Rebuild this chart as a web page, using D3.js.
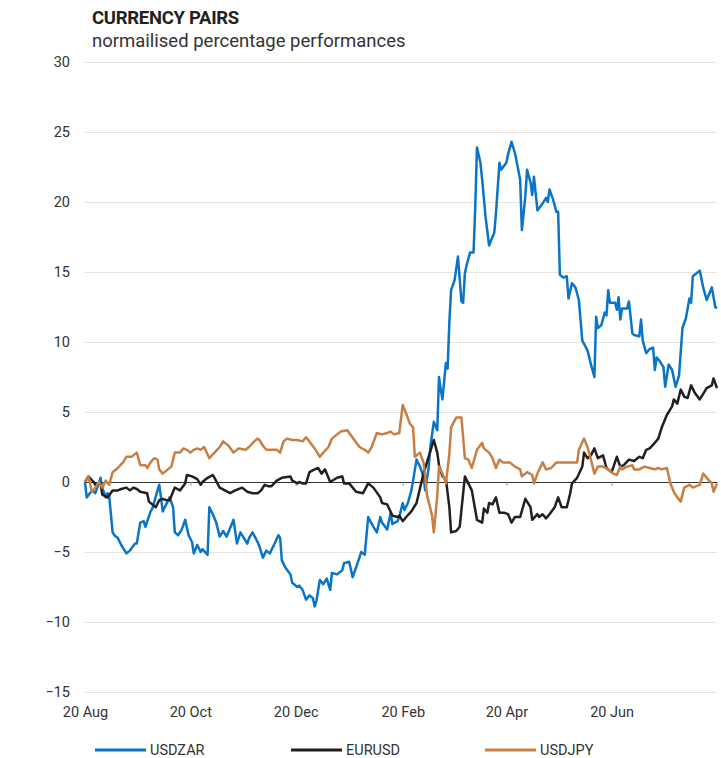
<!DOCTYPE html>
<html>
<head>
<meta charset="utf-8">
<script src="https://cdn.jsdelivr.net/npm/d3@7"></script>
<style>
  body { margin: 0; background: #fff; }
  svg { display: block; font-family: Roboto, "Noto Sans", sans-serif; }
</style>
</head>
<body>
<div id="chart"></div>
<script>
// Series values, normalised % change since 20 Aug 2019
const usdzar = [
  ["2019-08-20", 0], ["2019-08-21", -1.1], ["2019-08-24", -0.6], ["2019-08-26", -0.8], ["2019-08-29", 0.3],
  ["2019-08-30", -0.4], ["2019-09-01", -1.1], ["2019-09-02", -0.8], ["2019-09-03", -1.0], ["2019-09-05", -3.6],
  ["2019-09-06", -3.8], ["2019-09-08", -4.0], ["2019-09-10", -4.5], ["2019-09-13", -5.1], ["2019-09-15", -4.9],
  ["2019-09-18", -4.4], ["2019-09-19", -4.4], ["2019-09-21", -2.9], ["2019-09-23", -2.8], ["2019-09-24", -3.2],
  ["2019-09-27", -2.1], ["2019-09-28", -1.9], ["2019-10-01", -0.6], ["2019-10-02", -0.2], ["2019-10-03", -1.1],
  ["2019-10-04", -2.1], ["2019-10-06", -1.6], ["2019-10-08", -1.1], ["2019-10-10", -1.8], ["2019-10-11", -3.6],
  ["2019-10-13", -3.8], ["2019-10-15", -3.4], ["2019-10-17", -2.7], ["2019-10-19", -3.8], ["2019-10-21", -4.3],
  ["2019-10-22", -5.1], ["2019-10-24", -4.5], ["2019-10-26", -5.0], ["2019-10-27", -4.8], ["2019-10-30", -5.2],
  ["2019-10-31", -1.8], ["2019-11-02", -2.3], ["2019-11-04", -2.9], ["2019-11-06", -3.9], ["2019-11-08", -3.5],
  ["2019-11-10", -3.9], ["2019-11-12", -3.3], ["2019-11-14", -2.7], ["2019-11-16", -4.4], ["2019-11-18", -3.6],
  ["2019-11-19", -3.8], ["2019-11-22", -4.4], ["2019-11-23", -4.0], ["2019-11-25", -3.6], ["2019-11-28", -4.3],
  ["2019-11-29", -4.6], ["2019-12-01", -5.4], ["2019-12-03", -4.9], ["2019-12-05", -5.1], ["2019-12-07", -4.6],
  ["2019-12-10", -3.8], ["2019-12-11", -4.0], ["2019-12-12", -5.6], ["2019-12-14", -6.1], ["2019-12-17", -6.6],
  ["2019-12-18", -7.2], ["2019-12-21", -7.5], ["2019-12-22", -7.4], ["2019-12-24", -7.7], ["2019-12-26", -8.4],
  ["2019-12-28", -8.1], ["2019-12-30", -8.3], ["2019-12-31", -8.9], ["2020-01-01", -8.5], ["2020-01-03", -7.0],
  ["2020-01-05", -7.3], ["2020-01-07", -6.9], ["2020-01-09", -7.7], ["2020-01-10", -6.5], ["2020-01-13", -6.6],
  ["2020-01-16", -6.3], ["2020-01-17", -5.8], ["2020-01-20", -5.7], ["2020-01-22", -6.8], ["2020-01-24", -6.1],
  ["2020-01-27", -5.0], ["2020-01-29", -5.2], ["2020-01-31", -2.5], ["2020-02-03", -3.2], ["2020-02-05", -3.6],
  ["2020-02-07", -2.5], ["2020-02-08", -2.9], ["2020-02-11", -3.4], ["2020-02-13", -2.2], ["2020-02-14", -3.0],
  ["2020-02-17", -2.8], ["2020-02-18", -2.5], ["2020-02-20", -1.5], ["2020-02-21", -2.0], ["2020-02-23", -1.5],
  ["2020-02-25", -0.6], ["2020-02-26", 0.1], ["2020-02-28", 1.6], ["2020-03-01", 1.1], ["2020-03-03", 0.4],
  ["2020-03-04", -0.6], ["2020-03-06", 1.0], ["2020-03-07", 2.5], ["2020-03-09", 4.3], ["2020-03-11", 3.7],
  ["2020-03-12", 7.5], ["2020-03-13", 6.6], ["2020-03-14", 5.9], ["2020-03-16", 8.5], ["2020-03-17", 8.1],
  ["2020-03-18", 11.4], ["2020-03-19", 13.7], ["2020-03-21", 14.4], ["2020-03-23", 16.1], ["2020-03-25", 12.9],
  ["2020-03-26", 12.8], ["2020-03-27", 14.9], ["2020-03-28", 15.5], ["2020-03-30", 16.4], ["2020-04-01", 16.4],
  ["2020-04-02", 19.6], ["2020-04-03", 23.9], ["2020-04-05", 22.8], ["2020-04-06", 21.6], ["2020-04-08", 18.9],
  ["2020-04-10", 16.9], ["2020-04-13", 17.8], ["2020-04-14", 19.2], ["2020-04-16", 22.8], ["2020-04-17", 22.3],
  ["2020-04-20", 22.8], ["2020-04-21", 23.4], ["2020-04-23", 24.3], ["2020-04-25", 23.5], ["2020-04-28", 21.6],
  ["2020-04-29", 18.0], ["2020-05-01", 20.4], ["2020-05-02", 22.3], ["2020-05-04", 21.4], ["2020-05-05", 20.5],
  ["2020-05-06", 21.8], ["2020-05-08", 19.4], ["2020-05-11", 19.9], ["2020-05-13", 20.3], ["2020-05-14", 20.0],
  ["2020-05-15", 20.9], ["2020-05-17", 20.2], ["2020-05-19", 19.3], ["2020-05-20", 19.3], ["2020-05-21", 14.8],
  ["2020-05-23", 14.6], ["2020-05-25", 14.7], ["2020-05-26", 13.1], ["2020-05-28", 14.2], ["2020-05-30", 13.9],
  ["2020-06-01", 13.0], ["2020-06-03", 10.1], ["2020-06-06", 9.4], ["2020-06-08", 8.4], ["2020-06-10", 7.5],
  ["2020-06-11", 11.8], ["2020-06-12", 11.0], ["2020-06-14", 11.2], ["2020-06-16", 12.1], ["2020-06-17", 11.9],
  ["2020-06-18", 13.7], ["2020-06-19", 12.8], ["2020-06-22", 12.8], ["2020-06-23", 12.3], ["2020-06-24", 13.2],
  ["2020-06-25", 11.6], ["2020-06-26", 12.4], ["2020-06-29", 12.4], ["2020-06-30", 12.9], ["2020-07-02", 10.6],
  ["2020-07-03", 10.5], ["2020-07-06", 10.4], ["2020-07-07", 11.6], ["2020-07-08", 10.1], ["2020-07-10", 9.2],
  ["2020-07-12", 9.5], ["2020-07-14", 9.6], ["2020-07-15", 8.0], ["2020-07-16", 8.9], ["2020-07-18", 8.6],
  ["2020-07-20", 8.2], ["2020-07-21", 6.8], ["2020-07-23", 8.4], ["2020-07-25", 8.0], ["2020-07-27", 6.8],
  ["2020-07-29", 7.6], ["2020-07-31", 11.0], ["2020-08-02", 11.7], ["2020-08-04", 13.1], ["2020-08-05", 12.8],
  ["2020-08-06", 14.7], ["2020-08-10", 15.1], ["2020-08-12", 13.9], ["2020-08-14", 13.0], ["2020-08-17", 13.9],
  ["2020-08-19", 12.5], ["2020-08-20", 12.4]
];

const eurusd = [
  ["2019-08-20", 0], ["2019-08-22", 0.4], ["2019-08-25", 0.0], ["2019-08-26", -0.2], ["2019-08-29", -0.1],
  ["2019-08-30", -0.9], ["2019-09-02", -1.1], ["2019-09-05", -0.6], ["2019-09-08", -0.6], ["2019-09-10", -0.5],
  ["2019-09-13", -0.4], ["2019-09-15", -0.6], ["2019-09-17", -0.4], ["2019-09-19", -0.5], ["2019-09-21", -0.7],
  ["2019-09-25", -0.8], ["2019-09-26", -1.4], ["2019-09-28", -1.6], ["2019-09-30", -1.8], ["2019-10-02", -1.3],
  ["2019-10-04", -1.2], ["2019-10-06", -1.3], ["2019-10-08", -1.3], ["2019-10-11", -0.4], ["2019-10-14", -0.6],
  ["2019-10-17", -0.1], ["2019-10-18", 0.5], ["2019-10-21", 0.4], ["2019-10-24", 0.2], ["2019-10-26", -0.2],
  ["2019-10-27", 0.0], ["2019-10-30", 0.3], ["2019-11-02", 0.5], ["2019-11-03", 0.3], ["2019-11-06", -0.4],
  ["2019-11-09", -0.6], ["2019-11-12", -0.8], ["2019-11-15", -0.6], ["2019-11-19", -0.4], ["2019-11-22", -0.7],
  ["2019-11-25", -0.8], ["2019-11-28", -0.8], ["2019-11-30", -0.6], ["2019-12-02", -0.2], ["2019-12-04", -0.3],
  ["2019-12-06", -0.3], ["2019-12-09", 0.1], ["2019-12-12", 0.3], ["2019-12-17", 0.4], ["2019-12-18", 0.1],
  ["2019-12-21", -0.1], ["2019-12-22", 0.0], ["2019-12-24", -0.1], ["2019-12-26", -0.1], ["2019-12-28", 0.7],
  ["2019-12-31", 0.9], ["2020-01-02", 1.0], ["2020-01-04", 0.6], ["2020-01-06", 0.9], ["2020-01-09", 0.0],
  ["2020-01-13", 0.3], ["2020-01-16", 0.4], ["2020-01-17", -0.1], ["2020-01-20", -0.1], ["2020-01-24", -0.7],
  ["2020-01-28", -0.8], ["2020-01-31", -0.1], ["2020-02-03", -0.4], ["2020-02-07", -1.1], ["2020-02-08", -1.5],
  ["2020-02-11", -1.6], ["2020-02-14", -2.4], ["2020-02-17", -2.5], ["2020-02-18", -2.4], ["2020-02-20", -2.8],
  ["2020-02-22", -2.5], ["2020-02-25", -2.1], ["2020-02-28", -1.5], ["2020-03-03", 0.6], ["2020-03-06", 1.8],
  ["2020-03-09", 3.0], ["2020-03-11", 2.1], ["2020-03-12", 1.2], ["2020-03-14", 0.4], ["2020-03-16", 0.2],
  ["2020-03-18", -1.8], ["2020-03-19", -3.6], ["2020-03-22", -3.5], ["2020-03-24", -3.2], ["2020-03-27", 0.4],
  ["2020-03-29", -0.1], ["2020-03-31", -0.6], ["2020-04-02", -2.0], ["2020-04-03", -2.7], ["2020-04-06", -2.9],
  ["2020-04-07", -1.9], ["2020-04-09", -2.2], ["2020-04-10", -1.5], ["2020-04-12", -1.6], ["2020-04-14", -1.1],
  ["2020-04-16", -2.2], ["2020-04-19", -2.2], ["2020-04-21", -2.3], ["2020-04-23", -2.9], ["2020-04-25", -2.5],
  ["2020-04-28", -2.5], ["2020-05-01", -1.2], ["2020-05-04", -1.8], ["2020-05-05", -2.7], ["2020-05-08", -2.3],
  ["2020-05-09", -2.5], ["2020-05-11", -2.3], ["2020-05-13", -2.6], ["2020-05-15", -2.3], ["2020-05-18", -1.8],
  ["2020-05-20", -1.1], ["2020-05-22", -1.8], ["2020-05-25", -1.8], ["2020-05-27", -0.8], ["2020-05-28", -0.1],
  ["2020-05-31", 0.3], ["2020-06-03", 1.1], ["2020-06-04", 2.1], ["2020-06-06", 1.7], ["2020-06-08", 1.9],
  ["2020-06-10", 2.4], ["2020-06-12", 1.7], ["2020-06-15", 1.9], ["2020-06-17", 1.0], ["2020-06-20", 0.7],
  ["2020-06-23", 1.8], ["2020-06-25", 1.1], ["2020-06-27", 1.2], ["2020-06-30", 1.6], ["2020-07-03", 1.5],
  ["2020-07-06", 1.8], ["2020-07-08", 1.7], ["2020-07-10", 2.3], ["2020-07-12", 2.4], ["2020-07-15", 2.8],
  ["2020-07-17", 3.1], ["2020-07-19", 3.9], ["2020-07-22", 4.8], ["2020-07-25", 5.4], ["2020-07-26", 5.9],
  ["2020-07-28", 5.6], ["2020-07-30", 6.6], ["2020-08-01", 6.1], ["2020-08-03", 6.0], ["2020-08-05", 6.9],
  ["2020-08-07", 6.4], ["2020-08-10", 5.9], ["2020-08-12", 6.3], ["2020-08-14", 6.7], ["2020-08-17", 6.9],
  ["2020-08-18", 7.4], ["2020-08-20", 6.7]
];

const usdjpy = [
  ["2019-08-20", 0], ["2019-08-22", 0.4], ["2019-08-24", -0.7], ["2019-08-26", -0.4], ["2019-08-28", 0.0],
  ["2019-08-30", -0.4], ["2019-09-01", 0.1], ["2019-09-03", -0.2], ["2019-09-05", 0.7], ["2019-09-08", 1.0],
  ["2019-09-11", 1.4], ["2019-09-13", 1.8], ["2019-09-16", 1.8], ["2019-09-19", 2.1], ["2019-09-21", 1.2],
  ["2019-09-24", 1.2], ["2019-09-25", 1.0], ["2019-09-27", 1.4], ["2019-09-29", 1.7], ["2019-10-01", 1.6],
  ["2019-10-02", 0.9], ["2019-10-04", 0.6], ["2019-10-07", 0.9], ["2019-10-09", 1.1], ["2019-10-11", 2.1],
  ["2019-10-14", 2.1], ["2019-10-16", 2.4], ["2019-10-18", 2.3], ["2019-10-20", 2.1], ["2019-10-22", 2.3],
  ["2019-10-24", 2.4], ["2019-10-26", 2.3], ["2019-10-28", 2.5], ["2019-10-31", 1.7], ["2019-11-03", 2.1],
  ["2019-11-06", 2.5], ["2019-11-08", 2.9], ["2019-11-11", 2.6], ["2019-11-14", 2.1], ["2019-11-17", 2.4],
  ["2019-11-21", 2.3], ["2019-11-23", 2.5], ["2019-11-26", 2.9], ["2019-11-28", 3.1], ["2019-11-29", 3.0],
  ["2019-12-01", 2.6], ["2019-12-03", 2.3], ["2019-12-06", 2.3], ["2019-12-09", 2.3], ["2019-12-11", 2.1],
  ["2019-12-13", 2.9], ["2019-12-15", 3.1], ["2019-12-18", 3.0], ["2019-12-21", 3.0], ["2019-12-24", 2.9],
  ["2019-12-26", 3.2], ["2019-12-28", 2.9], ["2019-12-31", 2.4], ["2020-01-03", 1.8], ["2020-01-05", 2.1],
  ["2020-01-08", 2.5], ["2020-01-10", 3.1], ["2020-01-13", 3.4], ["2020-01-15", 3.6], ["2020-01-19", 3.7],
  ["2020-01-20", 3.5], ["2020-01-23", 3.0], ["2020-01-26", 2.5], ["2020-01-29", 2.3], ["2020-01-31", 2.1],
  ["2020-02-02", 2.5], ["2020-02-05", 3.5], ["2020-02-08", 3.4], ["2020-02-11", 3.5], ["2020-02-13", 3.6],
  ["2020-02-15", 3.4], ["2020-02-18", 3.5], ["2020-02-20", 5.5], ["2020-02-22", 4.9], ["2020-02-24", 4.2],
  ["2020-02-26", 3.9], ["2020-02-27", 1.8], ["2020-03-01", 2.1], ["2020-03-03", 1.4], ["2020-03-04", 0.4],
  ["2020-03-05", -0.9], ["2020-03-08", -2.4], ["2020-03-09", -3.6], ["2020-03-11", -1.0], ["2020-03-12", 1.1],
  ["2020-03-14", 0.6], ["2020-03-16", -0.1], ["2020-03-18", 2.0], ["2020-03-19", 3.9], ["2020-03-22", 4.6],
  ["2020-03-25", 4.6], ["2020-03-27", 1.7], ["2020-03-29", 1.6], ["2020-03-31", 1.0], ["2020-04-03", 2.3],
  ["2020-04-06", 2.8], ["2020-04-07", 2.4], ["2020-04-10", 2.1], ["2020-04-12", 1.7], ["2020-04-14", 1.0],
  ["2020-04-16", 1.6], ["2020-04-18", 1.4], ["2020-04-22", 1.4], ["2020-04-25", 1.1], ["2020-04-28", 0.9],
  ["2020-04-29", 0.4], ["2020-05-02", 0.7], ["2020-05-05", 0.5], ["2020-05-06", -0.1], ["2020-05-08", 0.6],
  ["2020-05-11", 1.4], ["2020-05-13", 0.9], ["2020-05-16", 1.0], ["2020-05-19", 1.4], ["2020-05-22", 1.4],
  ["2020-05-25", 1.4], ["2020-05-28", 1.4], ["2020-05-31", 1.4], ["2020-06-01", 2.3], ["2020-06-04", 3.1],
  ["2020-06-06", 2.5], ["2020-06-08", 1.6], ["2020-06-10", 0.6], ["2020-06-12", 1.1], ["2020-06-15", 1.1],
  ["2020-06-18", 0.9], ["2020-06-21", 0.6], ["2020-06-23", 0.5], ["2020-06-25", 1.1], ["2020-06-26", 0.9],
  ["2020-06-29", 1.1], ["2020-07-02", 1.2], ["2020-07-03", 0.9], ["2020-07-06", 0.9], ["2020-07-09", 1.1],
  ["2020-07-12", 1.0], ["2020-07-15", 0.9], ["2020-07-17", 1.0], ["2020-07-19", 0.9], ["2020-07-22", 1.0],
  ["2020-07-24", -0.1], ["2020-07-26", -0.7], ["2020-07-28", -1.1], ["2020-07-30", -1.4], ["2020-08-01", -0.4],
  ["2020-08-04", -0.2], ["2020-08-06", -0.4], ["2020-08-08", -0.3], ["2020-08-10", -0.2], ["2020-08-12", 0.6],
  ["2020-08-14", 0.3], ["2020-08-17", -0.1], ["2020-08-18", -0.7], ["2020-08-20", -0.1]
];

const seriesNames = ["USDZAR", "EURUSD", "USDJPY"];
const seriesColors = ["#0a74c6", "#231f20", "#c77f43"];
const yTicks = [-15, -10, -5, 0, 5, 10, 15, 20, 25, 30];
const xTickDates = ["2019-08-20", "2019-10-20", "2019-12-20", "2020-02-20", "2020-04-20", "2020-06-20"];
const title = "CURRENCY PAIRS";
const subtitle = "normailised percentage performances";

const width = 721, height = 758;
const margin = { top: 62, right: 4, bottom: 66, left: 85 };
const innerWidth = width - margin.left - margin.right;
const innerHeight = height - margin.top - margin.bottom;

const parse = d3.timeParse("%Y-%m-%d");
const fmt = d3.timeFormat("%d %b");

const svg = d3.select("#chart").append("svg")
  .attr("width", width)
  .attr("height", height);

const g = svg.append("g").attr("transform", `translate(${margin.left},${margin.top})`);

const x = d3.scaleTime()
  .domain([parse("2019-08-20"), parse("2020-08-20")])
  .range([0, innerWidth]);

const y = d3.scaleLinear()
  .domain([-15, 30])
  .range([innerHeight, 0]);

// title block
svg.append("text")
  .attr("x", 92).attr("y", 24)
  .attr("font-size", 18.5).attr("font-weight", 700)
  .attr("letter-spacing", -0.3)
  .attr("fill", "#231f20")
  .text(title);
svg.append("text")
  .attr("x", 92).attr("y", 47)
  .attr("font-size", 18.5)
  .attr("fill", "#333")
  .text(subtitle);

// y axis: gridlines + labels
const yAxis = g.append("g")
  .call(d3.axisLeft(y).tickValues(yTicks).tickSize(-innerWidth).tickPadding(15));
yAxis.select(".domain").remove();
yAxis.selectAll(".tick line").attr("stroke", "#e5e4dc").attr("stroke-width", 1);
yAxis.selectAll(".tick text")
  .attr("font-size", 14.5).attr("fill", "#333")
  .attr("font-family", "Roboto, sans-serif");

// x axis labels at bottom
const xAxis = g.append("g")
  .attr("transform", `translate(0,${innerHeight})`)
  .call(d3.axisBottom(x).tickValues(xTickDates.map(parse)).tickFormat(fmt).tickSize(0).tickPadding(15));
xAxis.select(".domain").remove();
xAxis.selectAll(".tick text")
  .attr("font-size", 14.5).attr("fill", "#333")
  .attr("font-family", "Roboto, sans-serif");

// zero line with small ticks
const zeroAxis = g.append("g")
  .attr("transform", `translate(0,${y(0)})`)
  .call(d3.axisBottom(x).tickValues(xTickDates.map(parse).slice(1)).tickSize(4).tickSizeOuter(0));
zeroAxis.select(".domain").attr("stroke", "#333").attr("stroke-width", 1);
zeroAxis.selectAll(".tick line").attr("stroke", "#999");
zeroAxis.selectAll(".tick text").remove();

// lines
const line = d3.line()
  .x(d => x(parse(d[0])))
  .y(d => y(d[1]));

[usdzar, eurusd, usdjpy].forEach((data, i) => {
  g.append("path")
    .datum(data)
    .attr("fill", "none")
    .attr("stroke", seriesColors[i])
    .attr("stroke-width", 2.5)
    .attr("stroke-linejoin", "round")
    .attr("d", line);
});

// legend
const legendX = [95, 291, 485];
const legend = svg.append("g").attr("transform", "translate(0,750)");
seriesNames.forEach((name, i) => {
  legend.append("line")
    .attr("x1", legendX[i]).attr("x2", legendX[i] + 51)
    .attr("y1", 0).attr("y2", 0)
    .attr("stroke", seriesColors[i]).attr("stroke-width", 3);
  legend.append("text")
    .attr("x", legendX[i] + 55).attr("y", 5)
    .attr("font-size", 14.5).attr("fill", "#333")
    .text(name);
});
</script>
</body>
</html>
